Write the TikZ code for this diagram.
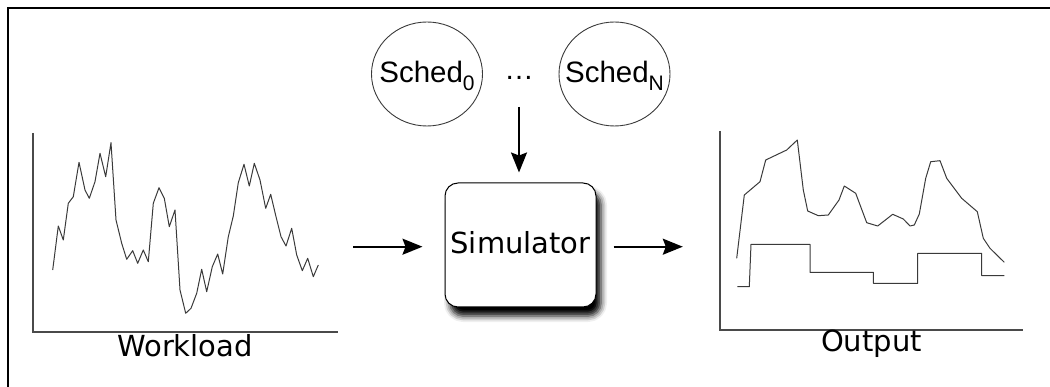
\documentclass[tikz,border=0pt]{standalone}
\usepackage{fontspec}
\setmainfont{DejaVu Sans}
\newfontfamily\schedfont{Liberation Sans}
\usetikzlibrary{arrows.meta,shadows.blur,shapes.geometric}
\definecolor{curve}{HTML}{3A3A3A}
\definecolor{axis}{HTML}{4A4A4A}
\tikzset{
  frameline/.style={line width=1.3pt,black},
  axisline/.style={line width=1.8pt,axis},
  plotline/.style={line width=1pt,curve,line join=round},
  schedcirc/.style={draw=curve,line width=0.9pt,ellipse,minimum width=111pt,minimum height=104pt,inner sep=0pt},
  schedtext/.style={inner sep=0pt,font=\schedfont\fontsize{29.5}{29.5}\selectfont,text height=21pt,text depth=3.6pt},
  simbox/.style={draw=black,line width=1pt,fill=white,rounded corners=13pt,minimum width=151pt,minimum height=124pt,
    inner sep=0pt,font=\fontsize{29}{29}\selectfont,text height=20pt,text depth=3.4pt,
    blur shadow={shadow xshift=5pt,shadow yshift=-9pt,shadow blur radius=6pt,shadow opacity=100}},
  caption/.style={font=\fontsize{29}{29}\selectfont,anchor=base},
  flowarrow/.style={line width=2pt,-{Stealth[length=20pt,width=16pt,inset=3pt]}}
}
\begin{document}
\begin{tikzpicture}[x=1pt,y=-1pt]
\useasboundingbox (0,0) rectangle (1050,387);
% frame (top and left edges)
\draw[frameline] (8,387) -- (8,8) -- (1050,8);

% schedulers
\node[schedcirc] (s0) at (427,74) {};
\node[schedtext] (s0t) at (s0.center) {Sched\raisebox{-8pt}{\fontsize{21}{21}\selectfont 0}};
\node[schedcirc] (sN) at (614.5,74) {};
\node[schedtext] (sNt) at (sN.center) {Sched\raisebox{-8pt}{\fontsize{21}{21}\selectfont N}};
\node[schedtext,text height=14pt,text depth=0pt] (dots) at (519,73) {…};

% simulator
\node[simbox] (sim) at (520.5,245) {Simulator};

% workload chart
\node[inner sep=0pt,minimum width=305pt,minimum height=200pt] (wl) at (185.5,232) {};
\draw[axisline] (33,133) -- (33,332) -- (338,332);
\draw[plotline] (52.7,270) -- (58.3,226) -- (63.3,240) -- (68.3,203.3) -- (73.3,196.7) -- (79,162.3)
 -- (85,190) -- (89.3,198.3) -- (95,181.7) -- (100,153.3) -- (105.7,176.7) -- (111,142.7)
 -- (116,220) -- (121.7,243.3) -- (126.7,259.3) -- (132.7,250.7) -- (137.7,263.3) -- (143.3,250)
 -- (148.3,261.7) -- (153.3,203.3) -- (159,187.7) -- (164.3,198.3) -- (169.3,226.7) -- (175,210)
 -- (180,290) -- (185.7,313.3) -- (191,308.3) -- (196.7,293.3) -- (201.7,269.3) -- (206.7,291.7)
 -- (212.3,266.7) -- (217.7,254) -- (222.7,274) -- (228.3,236.7) -- (233.3,216) -- (238.3,182.7)
 -- (244,164.3) -- (249.3,186) -- (254.3,163.3) -- (260,180) -- (265.7,208.3) -- (270.7,194.3)
 -- (276,216.7) -- (281,236.7) -- (286,246) -- (291.7,228.3) -- (296.7,255) -- (302.3,270.7)
 -- (307.7,258.3) -- (313.3,276.7) -- (318.3,265);
\node[caption] (wlcap) at (185,356.5) {Workload};

% output chart
\node[inner sep=0pt,minimum width=303pt,minimum height=199pt] (out) at (871.5,230.5) {};
\draw[axisline] (720,131) -- (720,330) -- (1023,330);
\draw[plotline] (736.7,258.3) -- (744.3,195) -- (760,181.7) -- (765.7,160) -- (786.7,150) -- (797.3,140)
 -- (803.3,190) -- (807.7,211) -- (818.3,215.7) -- (828.3,215) -- (839,200) -- (844.3,186)
 -- (855.7,193.3) -- (866.7,222.7) -- (877.7,226) -- (892.7,214.3) -- (903.3,219) -- (910,226)
 -- (914.3,225) -- (919.3,214) -- (925.7,178.3) -- (930.7,161.7) -- (940,160.7) -- (946.7,178.3)
 -- (961.7,198.3) -- (977.3,211.7) -- (983.3,238.3) -- (990,248.3) -- (1004.3,262.3);
\draw[plotline] (737.3,286.7) -- (749.3,286.7) -- (751,244.3) -- (810,244.3) -- (810,272.3)
 -- (873.3,272.3) -- (873.3,283.3) -- (917.7,283.3) -- (917.7,253.3) -- (981.7,253.3)
 -- (981.7,275.7) -- (1004.3,275.7);
\node[caption] (outcap) at (871.5,352) {Output};

% connectors
\draw[flowarrow,shorten <=15pt,shorten >=22pt] (sim.west -| wl.east) ++(0,1.7) -- ([yshift=-1.7pt]sim.west);
\draw[flowarrow,shorten <=17pt,shorten >=37pt] ([yshift=-1.7pt]sim.east) -- ([yshift=-1.7pt]sim.east -| out.west);
\draw[flowarrow,shorten <=34pt,shorten >=10pt] (dots.center) -- (dots.center |- sim.north);
\end{tikzpicture}
\end{document}
